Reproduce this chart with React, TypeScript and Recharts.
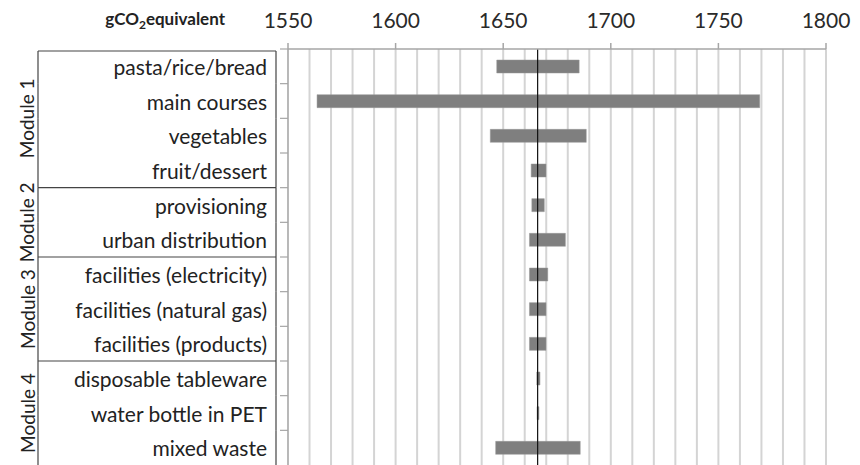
import { BarChart, Bar, XAxis, YAxis, CartesianGrid, ReferenceLine } from 'recharts';

const categories = [
  'pasta/rice/bread',
  'main courses',
  'vegetables',
  'fruit/dessert',
  'provisioning',
  'urban distribution',
  'facilities (electricity)',
  'facilities (natural gas)',
  'facilities (products)',
  'disposable tableware',
  'water bottle in PET',
  'mixed waste',
];
const lows = [1647, 1563.5, 1644, 1663, 1663.3, 1662.2, 1662.2, 1662.2, 1662.2, 1665.6, 1665.7, 1646.5];
const highs = [1685.3, 1769.2, 1688.6, 1669.9, 1669.1, 1678.9, 1670.7, 1669.9, 1669.9, 1667.1, 1666.6, 1685.8];
const baseline = 1666;

const moduleNames = ['Module 1', 'Module 2', 'Module 3', 'Module 4'];
const moduleSizes = [4, 2, 3, 3];

const gridTicks = [
  1550, 1560, 1570, 1580, 1590, 1600, 1610, 1620, 1630, 1640, 1650, 1660, 1670,
  1680, 1690, 1700, 1710, 1720, 1730, 1740, 1750, 1760, 1770, 1780, 1790, 1800,
];
const labelTicks = [1550, 1600, 1650, 1700, 1750, 1800];

const data = categories.map((name, i) => ({ name, range: [lows[i], highs[i]] }));

const W = 860;
const H = 465;
const AXIS_H = 49;
const LEFT = 288;
const ROW_H = (H - AXIS_H) / categories.length;
const BOX_L = 38;
const BOX_R = 276;
const FONT = 'Lato, "Open Sans", sans-serif';

const moduleStarts: number[] = [];
moduleSizes.reduce((acc, n) => {
  moduleStarts.push(acc);
  return acc + n;
}, 0);

function ValueTick({ x, payload }: any) {
  const v = payload.value;
  if (!labelTicks.includes(v)) return null;
  return (
    <g>
      <line x1={x} x2={x} y1={AXIS_H - 6} y2={AXIS_H} stroke="#a6a6a6" strokeWidth={1.5} />
      <text x={x} y={28} textAnchor="middle" fontSize={21} fill="#2a2a2a" fontFamily={FONT}>
        {v}
      </text>
    </g>
  );
}

function CategoryTick({ y, payload, index }: any) {
  const top = y - ROW_H / 2;
  const bottom = y + ROW_H / 2;
  const boxTop = index === 0 ? top + 2 : top;
  const m = moduleStarts.indexOf(index);
  return (
    <g>
      <line x1={LEFT - 8} x2={LEFT} y1={top} y2={top} stroke="#a6a6a6" strokeWidth={1.2} />
      <line x1={BOX_L} x2={BOX_L} y1={boxTop} y2={bottom} stroke="#444" strokeWidth={1.2} />
      <line x1={BOX_R} x2={BOX_R} y1={boxTop} y2={bottom} stroke="#444" strokeWidth={1.2} />
      {m >= 0 && (
        <line x1={BOX_L} x2={BOX_R} y1={boxTop} y2={boxTop} stroke="#444" strokeWidth={1.2} />
      )}
      {m >= 0 && (
        <text
          x={27}
          y={top + (moduleSizes[m] * ROW_H) / 2}
          transform={`rotate(-90 27 ${top + (moduleSizes[m] * ROW_H) / 2})`}
          textAnchor="middle"
          dominantBaseline="central"
          fontSize={19}
          fill="#222"
          fontFamily={FONT}
        >
          {moduleNames[m]}
        </text>
      )}
      <text
        x={267}
        y={y}
        textAnchor="end"
        dominantBaseline="central"
        fontSize={21}
        fill="#222"
        fontFamily={FONT}
      >
        {payload.value}
      </text>
    </g>
  );
}

function AxisTitle() {
  return (
    <text x={225} y={25} textAnchor="end" fontSize={17} fontWeight="bold" fill="#222" fontFamily={FONT}>
      gCO<tspan fontSize={12} dy={4}>2</tspan>
      <tspan dy={-4}>equivalent</tspan>
    </text>
  );
}

export default function App() {
  return (
    <div style={{ position: 'absolute', left: 0, top: 0, width: W, height: H, background: '#fff', fontFamily: FONT }}>
      <BarChart
        width={W}
        height={H}
        data={data}
        layout="vertical"
        margin={{ top: 0, right: 34, bottom: 0, left: 0 }}
      >
        <CartesianGrid vertical horizontal={false} stroke="#d4d4d4" strokeWidth={2} />
        <XAxis
          type="number"
          orientation="top"
          domain={[1550, 1800]}
          ticks={gridTicks}
          interval={0}
          height={AXIS_H}
          axisLine={{ stroke: '#a6a6a6', strokeWidth: 1.5 }}
          tickLine={false}
          tick={<ValueTick />}
          label={<AxisTitle />}
          allowDataOverflow
        />
        <YAxis
          type="category"
          dataKey="name"
          width={LEFT}
          interval={0}
          axisLine={{ stroke: '#a6a6a6', strokeWidth: 1.2 }}
          tickLine={false}
          tick={<CategoryTick />}
        />
        <Bar dataKey="range" fill="#7f7f7f" stroke="#999" strokeWidth={0.5} barSize={13} isAnimationActive={false} />
        <ReferenceLine x={baseline} stroke="#111" strokeWidth={1.2} />
      </BarChart>
    </div>
  );
}
